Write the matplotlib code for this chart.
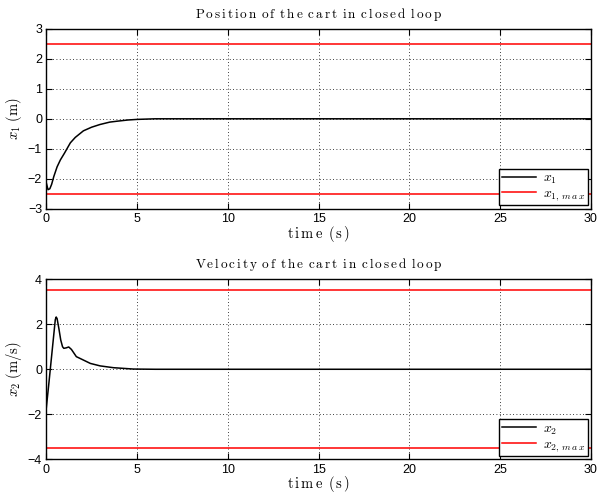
import numpy as np
import matplotlib
matplotlib.use("Agg")
import matplotlib.pyplot as plt

plt.rcParams['mathtext.fontset'] = 'cm'
plt.rcParams['font.family'] = ['Liberation Sans', 'DejaVu Sans']

# position of the cart
t_pos = [0, 0.1, 0.2, 0.3, 0.42, 0.6, 0.78, 1.0, 1.33, 1.6, 2.05, 2.5, 2.96, 3.5, 3.9, 4.5, 5, 6, 30]
x1 = [-2.12, -2.36, -2.33, -2.18, -1.92, -1.6, -1.37, -1.15, -0.8, -0.62, -0.4, -0.28, -0.19, -0.11, -0.08, -0.04, -0.02, 0, 0]
x1_max = 2.5

# velocity of the cart
t_vel = [0, 0.15, 0.3, 0.45, 0.5, 0.55, 0.6, 0.7, 0.8, 0.9, 0.97, 1.1, 1.24, 1.39, 1.66, 1.97, 2.43, 2.97, 3.7, 4.8, 6, 30]
x2 = [-1.76, -0.6, 0.6, 1.8, 2.2, 2.32, 2.25, 1.8, 1.3, 1.0, 0.93, 0.95, 0.99, 0.88, 0.56, 0.44, 0.26, 0.15, 0.07, 0.01, 0, 0]
x2_max = 3.5

xticks = [0, 5, 10, 15, 20, 25, 30]


def spaced(s):
    # letter-spaced roman text, like the LaTeX labels of the original
    words = [r'\,'.join(w) for w in s.split(' ')]
    return r'$\mathrm{' + r'\ \,'.join(words) + '}$'


fig = plt.figure(figsize=(6, 4.95), dpi=100)
ax1 = fig.add_axes([0.077, 0.578, 0.908, 0.364])
ax2 = fig.add_axes([0.077, 0.072, 0.908, 0.364])

panels = [
    (ax1, t_pos, x1, x1_max, [-3, 3], [-3, -2, -1, 0, 1, 2, 3], r'$x_1\ \mathrm{(m)}$',
     'Position of the cart in closed loop', [r'$x_1$', r'$x_{1,\,m\,a\,x}$']),
    (ax2, t_vel, x2, x2_max, [-4, 4], [-4, -2, 0, 2, 4], r'$x_2\ \mathrm{(m/s)}$',
     'Velocity of the cart in closed loop', [r'$x_2$', r'$x_{2,\,m\,a\,x}$']),
]

for ax, t, y, ymax, ylim, yticks, ylab, title, labs in panels:
    ax.plot(t, y, color='black', lw=1.1, label=labs[0])
    ax.plot([0, 30], [ymax, ymax], color='red', lw=1.1, label=labs[1])
    ax.plot([0, 30], [-ymax, -ymax], color='red', lw=1.1)
    ax.set_xlim(0, 30)
    ax.set_ylim(*ylim)
    ax.set_xticks(xticks)
    ax.set_yticks(yticks)
    ax.grid(True, color='black', linestyle=(0, (1, 3)), lw=0.6)
    ax.tick_params(direction='in', top=True, right=True, labelsize=9, length=4, pad=3)
    ax.set_ylabel(ylab, fontsize=10.5, labelpad=3)
    ax.set_xlabel(spaced('time (s)'), fontsize=10.5, labelpad=-1)
    ax.set_title(spaced(title), fontsize=9.5, pad=8)
    for s in ax.spines.values():
        s.set_linewidth(1.0)
    leg = ax.legend(loc='lower right', fontsize=10, fancybox=False, framealpha=1,
                    edgecolor='black', borderpad=0.15, labelspacing=0.0,
                    handlelength=2.5, handletextpad=0.5, borderaxespad=0.25)
    leg.get_frame().set_linewidth(1.0)

fig.savefig('out.png', dpi=100)
